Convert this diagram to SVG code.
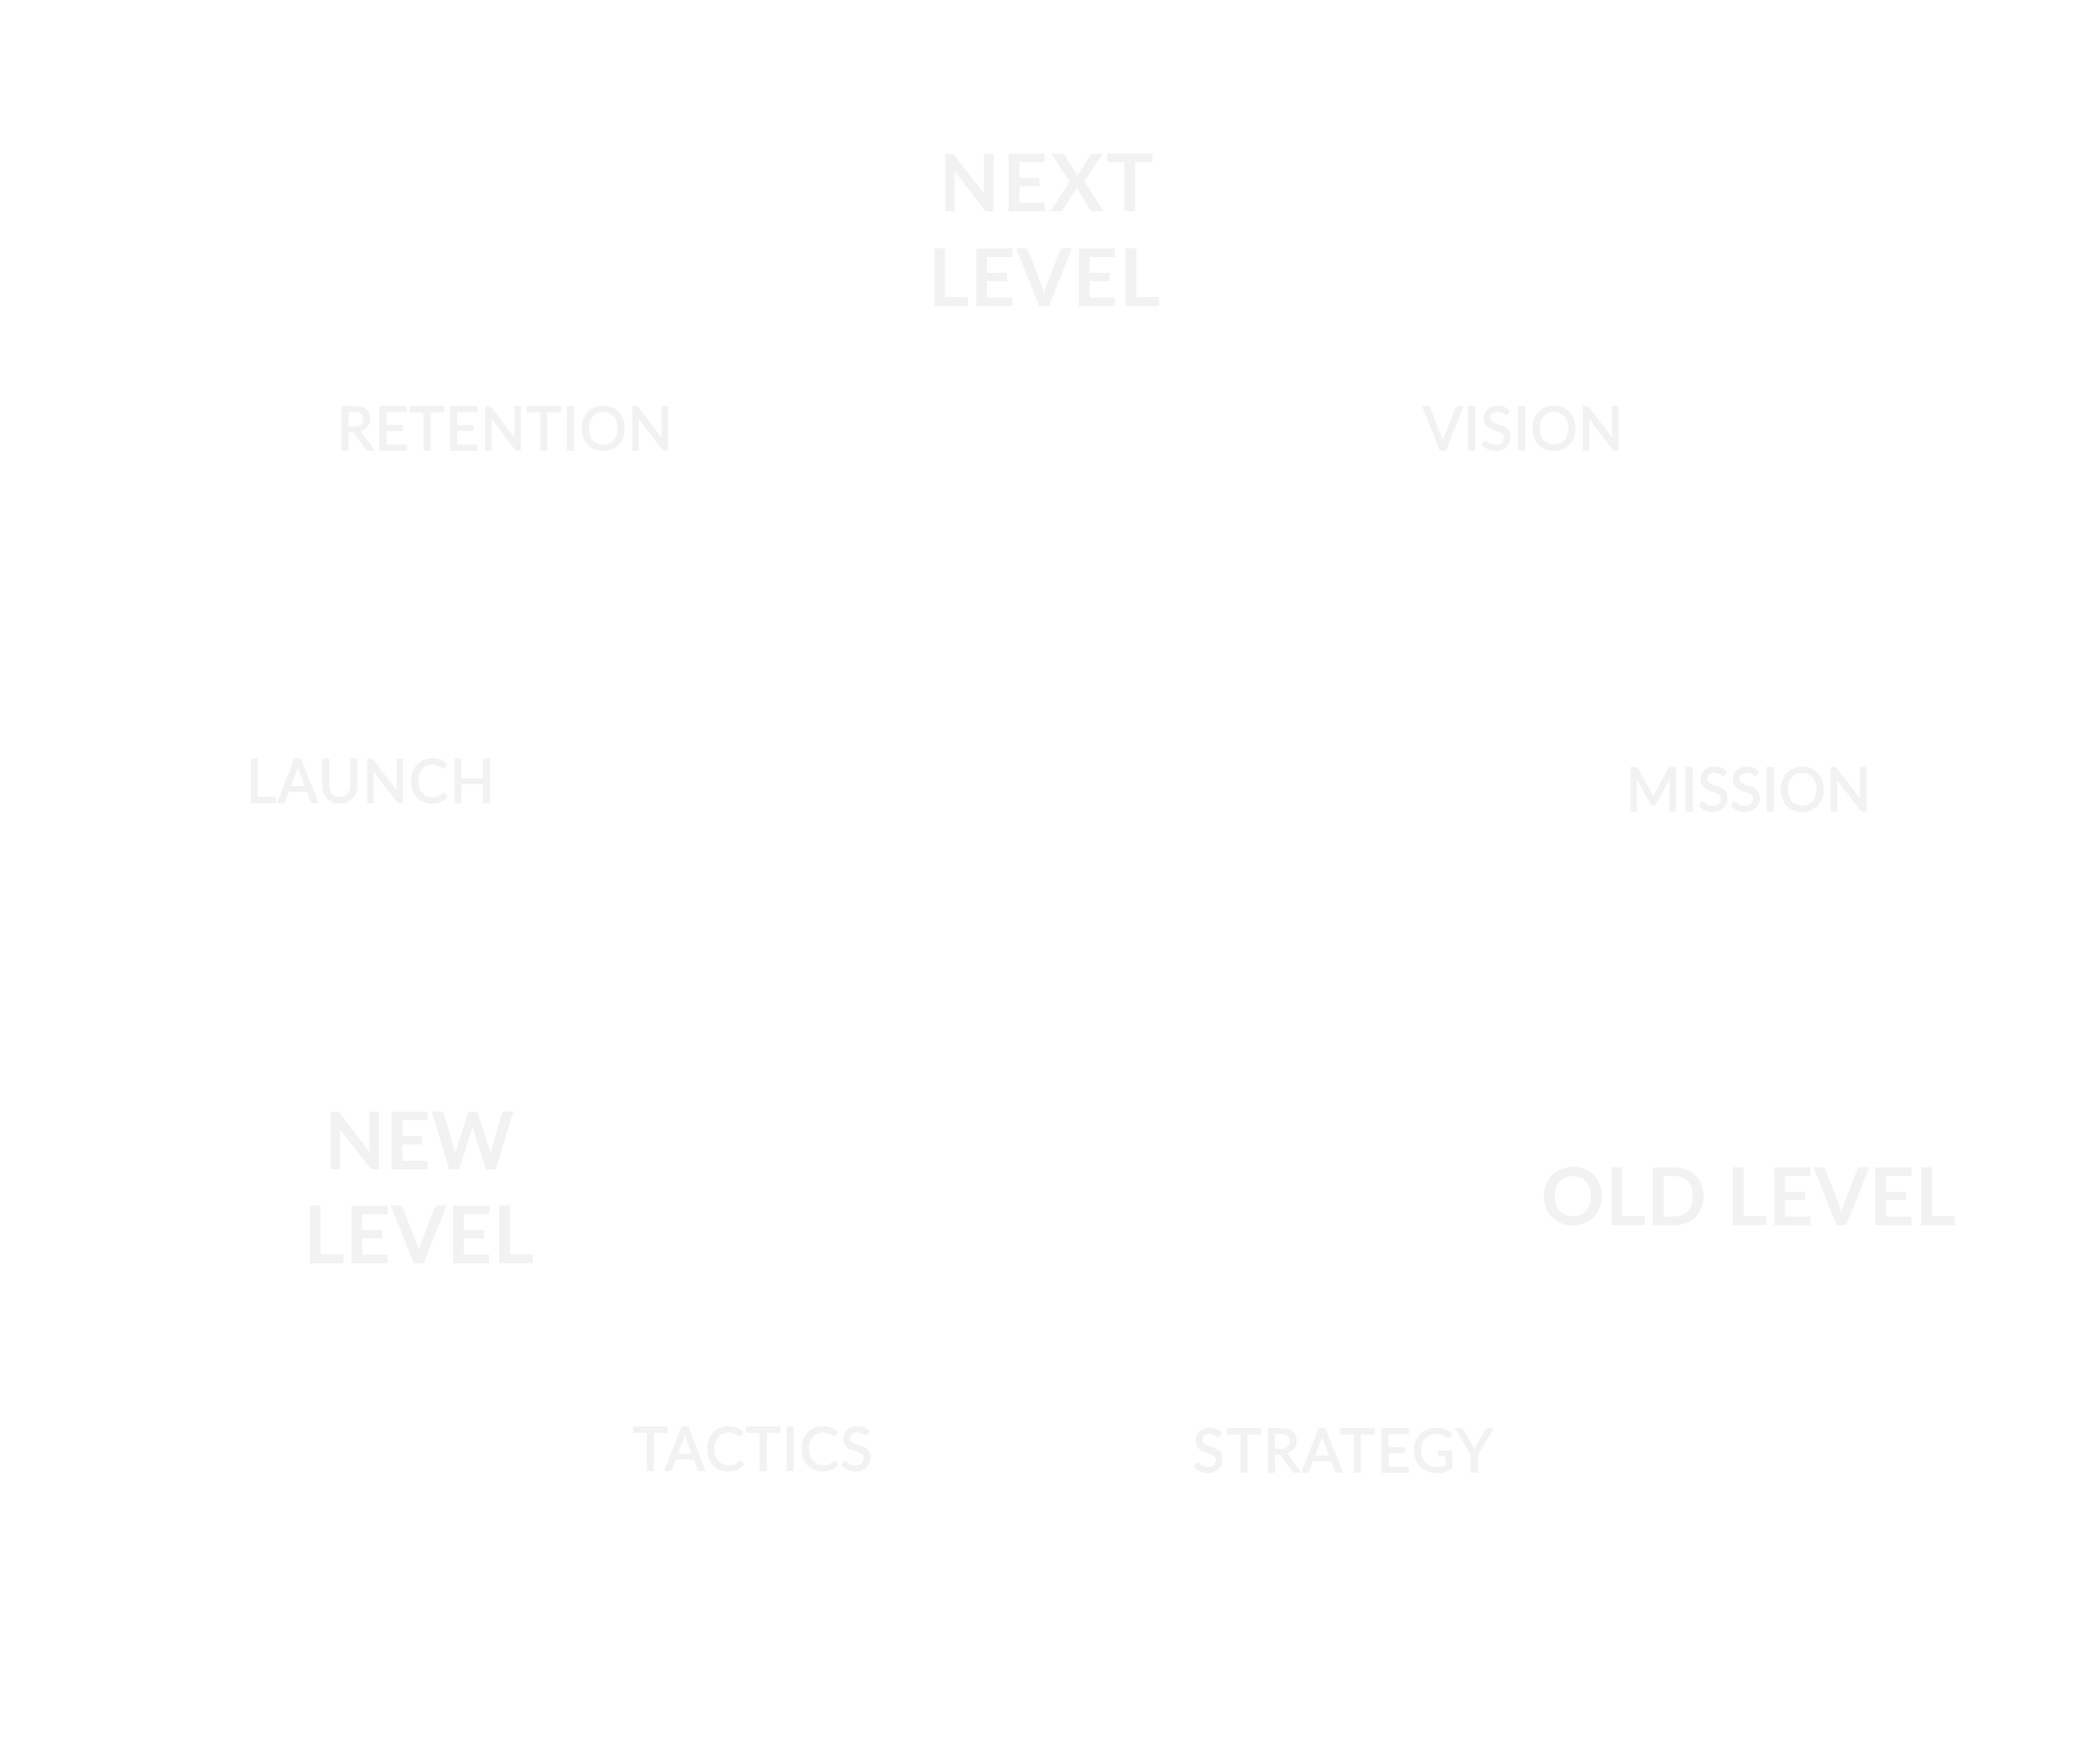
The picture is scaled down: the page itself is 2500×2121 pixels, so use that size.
<svg xmlns="http://www.w3.org/2000/svg" width="2500" height="2121" viewBox="0 0 2500 2121">
<style>
.t{font-family:"Lato","Liberation Sans",sans-serif;fill:#f2f2f2;}
.lbl{font-size:71px;font-weight:400;stroke:#f2f2f2;stroke-width:1.6px;}
.lvl{font-size:95px;font-weight:700;}
</style>
<rect width="2500" height="2121" fill="#ffffff"/>
<g id="next-level">
<text class="t lvl" x="1129" y="254" textLength="258" lengthAdjust="spacing">NEXT</text>
<text class="t lvl" x="1116" y="368" textLength="279" lengthAdjust="spacing">LEVEL</text>
</g>
<g id="retention"><text class="t lbl" x="405" y="541" textLength="404" lengthAdjust="spacing">RETENTION</text></g>
<g id="vision"><text class="t lbl" x="1711" y="541" textLength="241" lengthAdjust="spacing">VISION</text></g>
<g id="launch"><text class="t lbl" x="296" y="965" textLength="299" lengthAdjust="spacing">LAUNCH</text></g>
<g id="mission"><text class="t lbl" x="1955" y="975" textLength="295" lengthAdjust="spacing">MISSION</text></g>
<g id="new-level">
<text class="t lvl" x="390" y="1406" textLength="228" lengthAdjust="spacing">NEW</text>
<text class="t lvl" x="365" y="1519" textLength="277" lengthAdjust="spacing">LEVEL</text>
</g>
<g id="old-level"><text class="t lvl" x="1853" y="1473" textLength="499" lengthAdjust="spacing">OLD LEVEL</text></g>
<g id="tactics"><text class="t lbl" x="761" y="1768" textLength="288" lengthAdjust="spacing">TACTICS</text></g>
<g id="strategy"><text class="t lbl" x="1434" y="1770" textLength="361" lengthAdjust="spacing">STRATEGY</text></g>
<g id="connectors"></g>
</svg>
